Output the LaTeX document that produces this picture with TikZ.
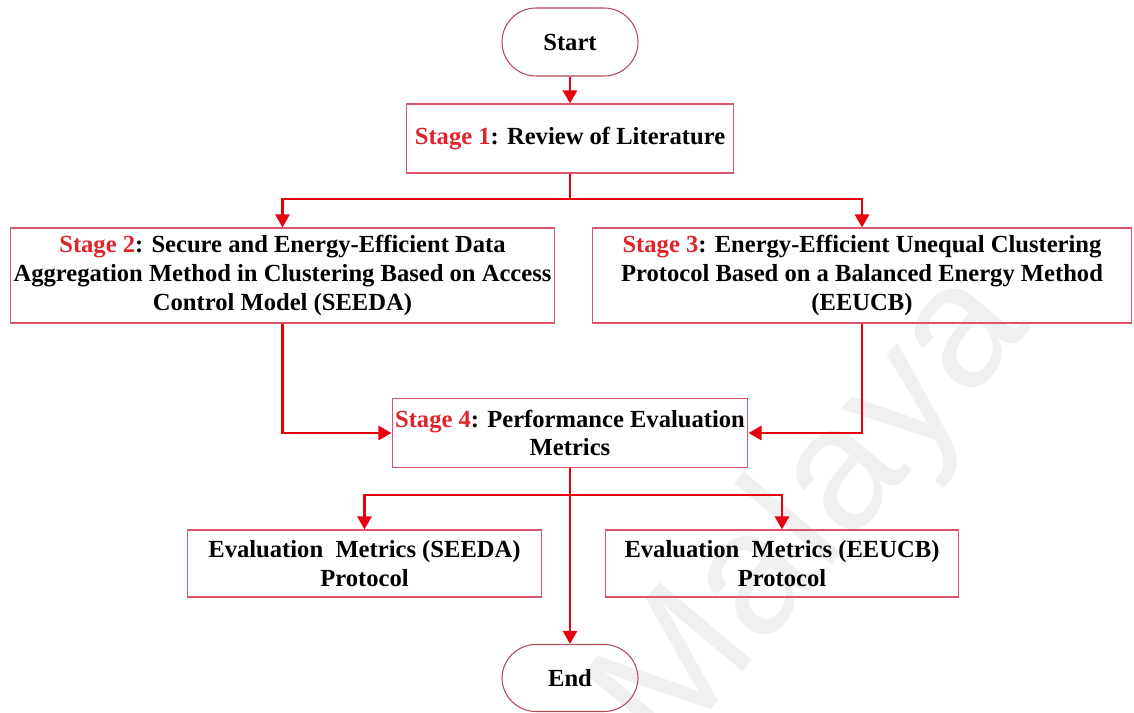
\documentclass[tikz,border=0pt]{standalone}
\usepackage{fontspec}
\setmainfont{Liberation Serif}
\newfontfamily\wmfont{Liberation Sans}
\usetikzlibrary{arrows.meta}
\definecolor{boxline}{HTML}{D9566A}
\definecolor{termline}{HTML}{B04A58}
\definecolor{flowred}{HTML}{E8000F}
\definecolor{stagered}{HTML}{E0232B}
\newcommand{\stg}[1]{\textcolor{stagered}{Stage #1}}

\begin{document}
\begin{tikzpicture}[x=0.02cm,y=-0.02cm,
  txt/.style={font=\bfseries\fontsize{14}{16.4}\selectfont, align=center, inner sep=0pt},
  box/.style={txt, draw=boxline, line width=0.6pt},
  term/.style={txt, draw=termline, line width=0.6pt, rounded corners=0.68cm,
    minimum width=2.72cm, minimum height=1.36cm},
  flow/.style={draw=flowred, line width=1.7pt,
    -{Triangle[length=7.5pt,width=8pt]}},
  flowline/.style={draw=flowred, line width=1.7pt}
]
\useasboundingbox (0,0) rectangle (1134,713);

% watermark
\node[rotate=50, text=black!6, font=\wmfont\fontsize{100}{100}\selectfont]
  (wm) at (815,515) {Malaya};

% nodes
\node[term] (start) at (570,42) {Start};
\node[box, minimum width=6.56cm, minimum height=1.38cm] (s1) at (570,138.5)
  {\stg{1}: Review of Literature};
\node[box, minimum width=10.9cm, minimum height=1.9cm] (s2) at (282.5,275.5)
  {\stg{2}: Secure and Energy-Efficient Data\\
   Aggregation Method in Clustering Based on Access\\
   Control Model (SEEDA)};
\node[box, minimum width=10.8cm, minimum height=1.9cm] (s3) at (862,275.5)
  {\stg{3}: Energy-Efficient Unequal Clustering\\
   Protocol Based on a Balanced Energy Method\\
   (EEUCB)};
\node[box, minimum width=7.12cm, minimum height=1.38cm] (s4) at (570,433)
  {\stg{4}: Performance Evaluation\\Metrics};
\node[box, minimum width=7.1cm, minimum height=1.34cm] (e1) at (364.5,563.5)
  {Evaluation\ \ Metrics (SEEDA)\\Protocol};
\node[box, minimum width=7.08cm, minimum height=1.34cm] (e2) at (782,563.5)
  {Evaluation\ \ Metrics (EEUCB)\\Protocol};
\node[term, minimum height=1.34cm] (end) at (570,678) {End};

% junctions
\coordinate (j1) at (570,199);
\coordinate (j2) at (570,495);

% connectors
\draw[flow] (start) -- (s1);
\draw[flowline] (s1.south) -- (j1);
\draw[flow] (j1) -| (s2.north);
\draw[flow] (j1) -| (s3.north);
\draw[flow] (s2.south) |- (s4.west);
\draw[flow] (s3.south) |- (s4.east);
\draw[flow] (s4.south) -- (end.north);
\draw[flow] (j2) -| (e1.north);
\draw[flow] (j2) -| (e2.north);
\end{tikzpicture}
\end{document}
